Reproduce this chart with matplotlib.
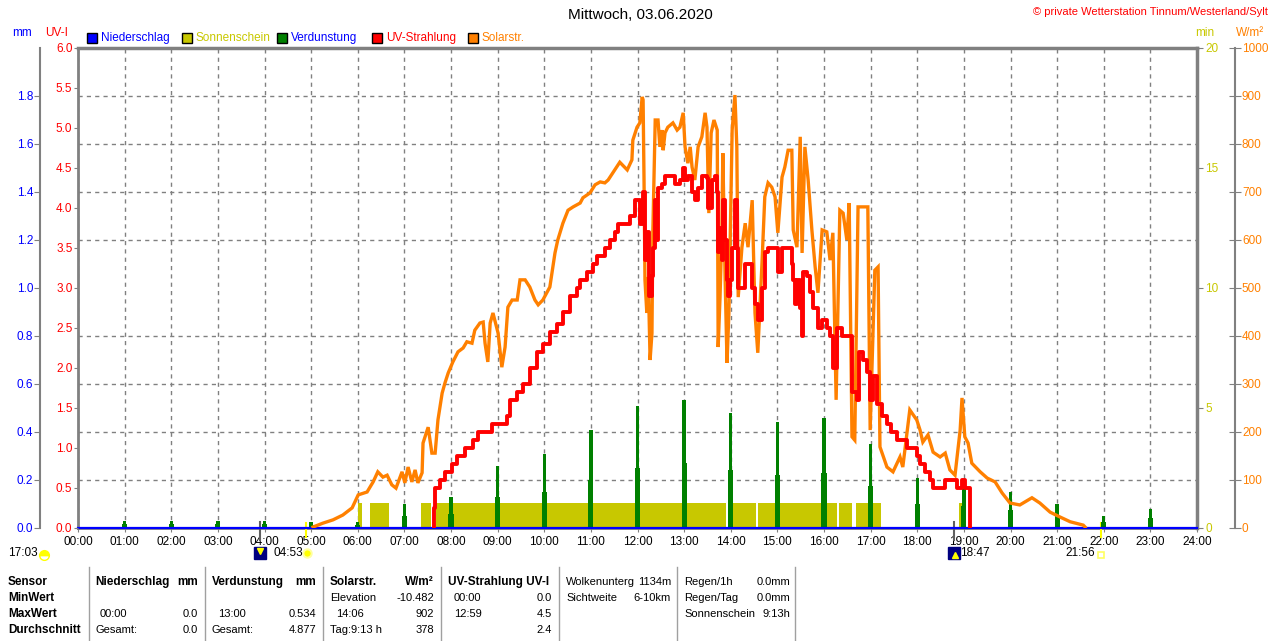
import numpy as np
import matplotlib
matplotlib.use('Agg')
import matplotlib.pyplot as plt
import matplotlib.transforms as mtransforms
from matplotlib.patches import Rectangle
from matplotlib.lines import Line2D

plt.rcParams['font.family'] = ['Liberation Sans', 'DejaVu Sans']
plt.rcParams['font.size'] = 8

# --- data (hours of day) ---
# Solarstrahlung W/m²
solar_t = [5.04, 5.25, 5.47, 5.68, 5.88, 6.01, 6.20, 6.33, 6.43, 6.54, 6.63, 6.73, 6.82, 6.95, 7.01,
           7.08, 7.16, 7.23, 7.29, 7.38, 7.40, 7.51, 7.59, 7.66, 7.72, 7.81, 7.87, 7.94, 8.04, 8.15,
           8.26, 8.34, 8.45, 8.51, 8.62, 8.69, 8.73, 8.79, 8.84, 8.90, 9.01, 9.09, 9.16, 9.22, 9.31,
           9.42, 9.48, 9.59, 9.69, 9.80, 9.87, 9.97, 10.12, 10.23, 10.29, 10.40, 10.51, 10.62, 10.77,
           10.83, 10.98, 11.09, 11.20, 11.30, 11.37, 11.62, 11.78, 11.88, 11.90, 11.99, 12.05, 12.10,
           12.12, 12.14, 12.16, 12.20, 12.23, 12.27, 12.31, 12.33, 12.38, 12.44, 12.48, 12.53, 12.55,
           12.59, 12.65, 12.76, 12.85, 12.91, 12.98, 13.02, 13.08, 13.13, 13.17, 13.23, 13.30, 13.38,
           13.45, 13.49, 13.53, 13.58, 13.64, 13.71, 13.73, 13.77, 13.81, 13.83, 13.88, 13.92, 13.96,
           14.03, 14.09, 14.13, 14.16, 14.24, 14.31, 14.37, 14.46, 14.52, 14.58, 14.67, 14.73, 14.80,
           14.88, 14.95, 15.01, 15.10, 15.16, 15.23, 15.31, 15.34, 15.42, 15.49, 15.53, 15.59, 15.66,
           15.74, 15.81, 15.87, 15.96, 16.06, 16.13, 16.19, 16.26, 16.34, 16.41, 16.49, 16.54, 16.60,
           16.66, 16.73, 16.84, 16.94, 16.99, 17.09, 17.16, 17.20, 17.35, 17.48, 17.63, 17.69, 17.84,
           17.99, 18.06, 18.12, 18.23, 18.34, 18.49, 18.60, 18.70, 18.81, 18.92, 18.96, 19.02, 19.09,
           19.17, 19.35, 19.50, 19.67, 19.82, 19.99, 20.20, 20.46, 20.63, 20.85, 21.06, 21.28, 21.56,
           21.60]
solar_w = [2, 10, 17, 27, 42, 69, 75, 96, 117, 106, 110, 90, 83, 117, 94,
           127, 96, 121, 94, 115, 177, 210, 156, 156, 225, 281, 302, 323, 346, 367,
           375, 388, 385, 412, 427, 429, 385, 346, 427, 448, 406, 335, 377, 460, 475,
           475, 517, 517, 502, 475, 465, 475, 502, 573, 600, 635, 662, 669, 677,
           688, 698, 715, 721, 719, 725, 762, 746, 767, 808, 835, 844, 898,
           892, 725, 517, 448, 523, 350, 406, 621, 850, 850, 794, 829, 787,
           823, 835, 844, 829, 835, 865, 794, 760, 794, 752, 725, 794, 815,
           865, 835, 656, 823, 850, 829, 377, 481, 621, 781, 517, 344, 448,
           829, 902, 794, 481, 585, 635, 585, 683, 448, 365, 552, 690, 719,
           710, 690, 615, 731, 752, 787, 787, 621, 585, 815, 573, 794, 725,
           621, 544, 490, 621, 617, 558, 615, 267, 662, 656, 600, 677, 190,
           183, 669, 669, 669, 204, 537, 544, 169, 127, 117, 148, 127, 246,
           225, 204, 179, 194, 158, 148, 156, 121, 110, 204, 271, 190, 177,
           135, 117, 104, 96, 73, 52, 48, 63, 52, 33, 23, 13, 6,
           2]

# UV-Strahlung UV-I
uv_t = [7.64, 7.64, 7.66, 7.76, 7.87, 8.02, 8.13, 8.30, 8.47, 8.58, 8.84, 8.88, 9.12, 9.20, 9.27,
        9.42, 9.54, 9.69, 9.84, 9.97, 10.12, 10.27, 10.40, 10.55, 10.70, 10.77, 10.92, 11.05, 11.13,
        11.30, 11.41, 11.52, 11.58, 11.80, 11.84, 11.95, 12.05, 12.06, 12.12, 12.16, 12.20, 12.25,
        12.31, 12.33, 12.38, 12.42, 12.44, 12.53, 12.59, 12.76, 12.80, 12.91, 12.98, 13.02, 13.08,
        13.17, 13.23, 13.30, 13.38, 13.49, 13.51, 13.60, 13.66, 13.71, 13.73, 13.77, 13.81, 13.83,
        13.88, 13.92, 13.94, 13.98, 14.03, 14.09, 14.13, 14.16, 14.24, 14.31, 14.37, 14.46, 14.52,
        14.58, 14.67, 14.73, 14.80, 14.95, 15.01, 15.10, 15.21, 15.31, 15.34, 15.38, 15.42, 15.49,
        15.53, 15.55, 15.64, 15.70, 15.76, 15.87, 15.96, 16.06, 16.13, 16.19, 16.28, 16.39, 16.52,
        16.60, 16.71, 16.75, 16.84, 16.92, 16.99, 17.05, 17.14, 17.24, 17.35, 17.43, 17.57, 17.78,
        17.99, 18.06, 18.17, 18.27, 18.34, 18.55, 18.60, 18.81, 18.85, 18.96, 19.02, 19.11, 19.13]
uv_i = [0.0, 0.25, 0.5, 0.6, 0.7, 0.8, 0.9, 1.0, 1.1, 1.2, 1.2, 1.3, 1.3, 1.4, 1.6,
        1.7, 1.8, 2.0, 2.2, 2.3, 2.45, 2.55, 2.7, 2.9, 3.0, 3.1, 3.2, 3.3, 3.4,
        3.5, 3.6, 3.7, 3.8, 3.8, 3.9, 4.1, 4.1, 3.8, 4.2, 3.35, 3.7, 2.9,
        3.15, 3.5, 4.1, 3.6, 4.25, 4.3, 4.4, 4.4, 4.3, 4.35, 4.5, 4.35, 4.4,
        4.2, 4.1, 4.25, 4.4, 4.375, 4.0, 4.35, 4.4, 4.2, 3.45, 3.75, 3.35, 4.1,
        3.6, 3.1, 2.9, 3.1, 3.5, 4.1, 3.5, 3.0, 3.0, 3.3, 3.3, 3.0, 2.8,
        2.6, 3.0, 3.45, 3.5, 3.5, 3.2, 3.5, 3.5, 3.3, 3.1, 2.8, 3.1, 2.75,
        2.4, 3.2, 3.15, 2.95, 2.75, 2.5, 2.6, 2.5, 2.4, 2.0, 2.5, 2.4, 2.4,
        1.7, 1.6, 2.2, 2.1, 1.95, 1.6, 1.9, 1.55, 1.4, 1.3, 1.2, 1.1, 1.0,
        0.9, 0.8, 0.7, 0.6, 0.5, 0.5, 0.6, 0.6, 0.5, 0.6, 0.5, 0.5, 0.0]

# Verdunstung mm (hourly)
evap_hours = list(range(1, 24))
evap_peak = [0.03, 0.03, 0.03, 0.03, 0.025, 0.025, 0.10, 0.13, 0.26, 0.31, 0.41, 0.51, 0.534,
             0.48, 0.44, 0.46, 0.35, 0.21, 0.18, 0.15, 0.10, 0.05, 0.08]
evap_base = [0.015, 0.015, 0.015, 0.015, 0.012, 0.012, 0.05, 0.06, 0.13, 0.15, 0.20, 0.25, 0.27,
             0.24, 0.22, 0.23, 0.175, 0.10, 0.09, 0.075, 0.05, 0.025, 0.04]

# Sonnenschein min
sun_start = [6.01, 6.26, 7.36, 7.68, 13.94, 14.58, 16.32, 16.69, 18.90]
sun_end = [6.09, 6.67, 7.57, 13.90, 14.54, 16.28, 16.60, 17.22, 19.00]
sun_min = [1.05] * len(sun_start)

# Niederschlag mm
rain_t = [0, 24]
rain_mm = [0.0, 0.0]

# astro events
gray_events = [3.9, 18.78]
yellow_events = [4.883, 21.933]

hour_labels = ['%02d:00' % h for h in range(25)]

C_BLUE = '#0000FF'
C_OLIVE = '#C8C800'
C_GREEN = '#008000'
C_RED = '#FF0000'
C_ORANGE = '#FF8000'
C_GRAY = '#808080'

W, H = 1280, 641
fig = plt.figure(figsize=(12.8, 6.41), dpi=100)


def box(x0, y0, x1, y1):
    return [x0 / W, 1 - y1 / H, (x1 - x0) / W, (y1 - y0) / H]


def ftext(x, y, s, **kw):
    fig.text(x / W, 1 - y / H, s, **kw)


ax = fig.add_axes(box(78, 48, 1197, 528))
ax_mm = ax.twinx()
ax_w = ax.twinx()
ax_uv = ax.twinx()
ax.set_zorder(1)
ax_mm.set_zorder(2)
ax_w.set_zorder(3)
ax_uv.set_zorder(4)

# host: sunshine minutes, grid, frame
ax.set_xlim(0, 24)
ax.set_ylim(0, 20)
ax.set_xticks(range(25))
ax.set_xticklabels(hour_labels)
ax.set_yticks([0, 5, 10, 15, 20])
ax.set_yticks(np.arange(2, 20, 2), minor=True)
ax.yaxis.tick_right()
ax.tick_params(axis='y', which='major', colors=C_GRAY, labelcolor=C_OLIVE, length=4, pad=2, labelsize=8.5)
ax.tick_params(axis='y', which='minor', length=0)
ax.tick_params(axis='x', colors=C_GRAY, labelcolor='black', length=3, pad=3, labelsize=8.5)
ax.grid(axis='x', which='major', ls=(0, (3, 3)), color=C_GRAY, lw=1)
ax.grid(axis='y', which='minor', ls=(0, (3, 3)), color=C_GRAY, lw=1)
for s in ax.spines.values():
    s.set_color(C_GRAY)
    s.set_linewidth(2)
ax.spines['top'].set_linewidth(2.5)
ax.spines['right'].set_linewidth(2.5)
ax.bar(sun_start, sun_min, width=np.subtract(sun_end, sun_start), align='edge',
       color=C_OLIVE, lw=0, zorder=2)

# mm axis (Verdunstung / Niederschlag)
ax_mm.set_ylim(0, 2.0)
ax_mm.set_yticks(np.arange(0, 1.81, 0.2))
ax_mm.set_yticklabels(['%.1f' % v for v in np.arange(0, 1.81, 0.2)])
ax_mm.yaxis.set_ticks_position('left')
ax_mm.yaxis.set_label_position('left')
ax_mm.spines['left'].set_position(('axes', (40 - 78) / 1119))
for k in ['top', 'right', 'bottom']:
    ax_mm.spines[k].set_visible(False)
ax_mm.spines['left'].set_color(C_GRAY)
ax_mm.spines['left'].set_linewidth(1.5)
ax_mm.tick_params(axis='y', colors=C_GRAY, labelcolor=C_BLUE, length=4, pad=1, labelsize=8.5)
ax_mm.bar(evap_hours, evap_base, width=0.11, color=C_GREEN, lw=0)
ax_mm.bar(evap_hours, evap_peak, width=0.075, color=C_GREEN, lw=0)
ax_mm.plot(rain_t, rain_mm, color=C_BLUE, lw=1.6, clip_on=False, zorder=5)

# W/m² axis
ax_w.set_ylim(0, 1000)
ax_w.set_yticks(range(0, 1001, 100))
ax_w.spines['right'].set_position(('axes', (1235 - 78) / 1119))
for k in ['top', 'left', 'bottom']:
    ax_w.spines[k].set_visible(False)
ax_w.spines['right'].set_color(C_GRAY)
ax_w.spines['right'].set_linewidth(1.5)
ax_w.tick_params(axis='y', direction='inout', colors=C_GRAY, labelcolor=C_ORANGE,
                 length=8, pad=1, labelsize=8.5)
ax_w.plot(solar_t, solar_w, color=C_ORANGE, lw=2.4, solid_joinstyle='miter')

# UV axis
ax_uv.set_ylim(0, 6)
ax_uv.set_yticks(np.arange(0, 6.01, 0.5))
ax_uv.set_yticklabels(['%.1f' % v for v in np.arange(0, 6.01, 0.5)])
ax_uv.yaxis.set_ticks_position('left')
for s in ax_uv.spines.values():
    s.set_visible(False)
ax_uv.tick_params(axis='y', colors=C_GRAY, labelcolor=C_RED, length=3, pad=1, labelsize=8.5)
ax_uv.plot(uv_t, uv_i, color=C_RED, lw=2.8, drawstyle='steps-post')

# astro ticks below the axis
tr = mtransforms.blended_transform_factory(ax.transData, fig.transFigure)
for t in gray_events:
    ax.plot([t, t], [1 - 522 / H, 1 - 540 / H], color='#606060', lw=1.5, transform=tr, clip_on=False, zorder=6)
for t in yellow_events:
    ax.plot([t, t], [1 - 523 / H, 1 - 537 / H], color='#FFFF00', lw=1.5, transform=tr, clip_on=False, zorder=6)


def marker(x, y, **kw):
    fig.add_artist(Line2D([x / W], [1 - y / H], transform=fig.transFigure, **kw))


ftext(8, 553, '17:03', va='center', ha='left', fontsize=8.5)
marker(44, 555, marker='o', ms=7, mfc='#FFFF00', mec='#FFFF00', fillstyle='top', mfcalt='none', ls='none')
marker(260, 553, marker='s', ms=8, mfc='#000080', mec='#000080', ls='none')
marker(260, 551, marker='v', ms=4, mfc='#FFFF00', mec='#FFFF00', ls='none')
ftext(273, 553, '04:53', va='center', ha='left', fontsize=8.5)
marker(307, 553, marker='o', ms=6, mfc='#FFFF00', mec='#FFFFA0', mew=1.5, ls='none')
marker(954, 553, marker='s', ms=8, mfc='#000080', mec='#000080', ls='none')
marker(955, 555, marker='^', ms=4, mfc='#FFFF00', mec='#FFFF00', ls='none')
ftext(960, 553, '18:47', va='center', ha='left', fontsize=8.5)
ftext(1095, 553, '21:56', va='center', ha='right', fontsize=8.5)
marker(1101, 555, marker='s', ms=4, mfc='none', mec='#FFFF60', mew=1.2, ls='none')

# titles and axis units
ftext(640, 15, 'Mittwoch, 03.06.2020', ha='center', va='center', fontsize=11)
ftext(1268, 12, '© private Wetterstation Tinnum/Westerland/Sylt', ha='right', va='center',
      fontsize=8, color=C_RED)
ftext(22, 33, 'mm', ha='center', va='center', color=C_BLUE, fontsize=8.5)
ftext(57, 33, 'UV-I', ha='center', va='center', color=C_RED, fontsize=8.5)
ftext(1205, 33, 'min', ha='center', va='center', color=C_OLIVE, fontsize=8.5)
ftext(1250, 33, 'W/m²', ha='center', va='center', color=C_ORANGE, fontsize=8.5)

# legend
legend_items = [(87, 'Niederschlag', C_BLUE, C_BLUE), (182, 'Sonnenschein', C_OLIVE, C_OLIVE),
                (277, 'Verdunstung', C_GREEN, C_BLUE), (372, 'UV-Strahlung', C_RED, C_RED),
                (468, 'Solarstr.', C_ORANGE, C_ORANGE)]
for x, label, fc, tc in legend_items:
    fig.add_artist(Rectangle((x / W, 1 - 43 / H), 10 / W, 10 / H, transform=fig.transFigure,
                             facecolor=fc, edgecolor='black', lw=1))
    ftext(x + 14, 38, label, ha='left', va='center', color=tc, fontsize=8.5)

# table below
rows = [582, 598, 614, 630]
for y, s in zip(rows, ['Sensor', 'MinWert', 'MaxWert', 'Durchschnitt']):
    ftext(8, y, s, ha='left', va='center', fontweight='bold', fontsize=8.5)
for x in [89, 205, 323, 441, 559, 677, 795]:
    fig.add_artist(Line2D([x / W, x / W], [1 - 567 / H, 0], color='#A0A0A0', lw=1,
                          transform=fig.transFigure))

cells = [
    (95, rows[0], 'Niederschlag', 'left', True), (198, rows[0], 'mm', 'right', True),
    (100, rows[2], '00:00', 'left', False), (198, rows[2], '0.0', 'right', False),
    (95, rows[3], 'Gesamt:', 'left', False), (198, rows[3], '0.0', 'right', False),
    (212, rows[0], 'Verdunstung', 'left', True), (316, rows[0], 'mm', 'right', True),
    (218, rows[2], '13:00', 'left', False), (316, rows[2], '0.534', 'right', False),
    (212, rows[3], 'Gesamt:', 'left', False), (316, rows[3], '4.877', 'right', False),
    (330, rows[0], 'Solarstr.', 'left', True), (434, rows[0], 'W/m²', 'right', True),
    (330, rows[1], 'Elevation', 'left', False), (434, rows[1], '-10.482', 'right', False),
    (336, rows[2], '14:06', 'left', False), (434, rows[2], '902', 'right', False),
    (330, rows[3], 'Tag:9:13 h', 'left', False), (434, rows[3], '378', 'right', False),
    (448, rows[0], 'UV-Strahlung UV-I', 'left', True),
    (454, rows[1], '00:00', 'left', False), (552, rows[1], '0.0', 'right', False),
    (454, rows[2], '12:59', 'left', False), (552, rows[2], '4.5', 'right', False),
    (552, rows[3], '2.4', 'right', False),
    (566, rows[0], 'Wolkenunterg', 'left', False), (671, rows[0], '1134m', 'right', False),
    (566, rows[1], 'Sichtweite', 'left', False), (671, rows[1], '6-10km', 'right', False),
    (684, rows[0], 'Regen/1h', 'left', False), (790, rows[0], '0.0mm', 'right', False),
    (684, rows[1], 'Regen/Tag', 'left', False), (790, rows[1], '0.0mm', 'right', False),
    (684, rows[2], 'Sonnenschein', 'left', False), (790, rows[2], '9:13h', 'right', False),
]
for x, y, s, ha, bold in cells:
    ftext(x, y, s, ha=ha, va='center', fontsize=8.5 if bold else 8,
          fontweight='bold' if bold else 'normal')

fig.savefig('out.png', dpi=100)
